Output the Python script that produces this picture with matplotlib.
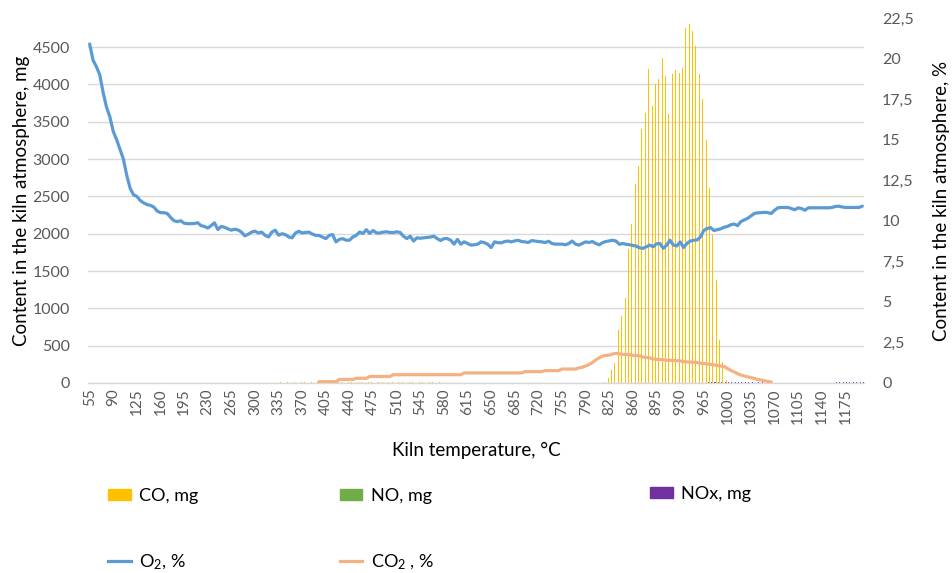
import numpy as np
import matplotlib
matplotlib.use('Agg')
import matplotlib.pyplot as plt
from matplotlib.ticker import FuncFormatter
from matplotlib.patches import Patch
from matplotlib.lines import Line2D

plt.rcParams['font.family'] = ['Lato', 'DejaVu Sans']
plt.rcParams['mathtext.fontset'] = 'custom'
plt.rcParams['mathtext.rm'] = 'Lato'
plt.rcParams['mathtext.it'] = 'Lato:italic'

# kiln temperature categories, deg C
temps = list(range(55, 1201, 5))

# CO, mg : main peak 820..1000 C
co_peak_start = 820
co_peak = [17, 63, 174, 272, 710, 902, 1135, 1792, 2131, 2668,
           2909, 3409, 3615, 4209, 3713, 4012, 4071, 4352, 4115, 3606,
           4146, 4191, 4155, 4222, 4759, 4816, 4718, 4513, 4146, 3802,
           3253, 2610, 1984, 1381, 576, 281, 40]
# CO traces 340..585 C
co_trace_start = 340
co_trace = [8, 0, 10, 0, 12, 0, 10, 8, 0, 12,
            0, 10, 12, 0, 14, 10, 0, 15, 12, 0,
            18, 14, 0, 16, 12, 0, 15, 12, 0, 10,
            14, 0, 12, 10, 0, 14, 12, 0, 10, 8,
            0, 10, 8, 0, 10, 8, 0, 8, 6, 0]

# NOx, mg traces
nox_a_start = 970
nox_a = [10, 12, 10, 12, 14, 12, 10, 12, 14, 12,
         10, 12, 10, 8, 0, 10, 8, 0, 8, 0]
nox_b_start = 1150
nox_b = [0, 0, 8, 10, 8, 10, 8, 10, 10, 12, 10]

# O2, %
o2 = [20.9, 19.9, 19.5, 19.0, 17.9, 17.0, 16.4, 15.5, 15.0, 14.4,
      13.8, 12.8, 12.0, 11.6, 11.5, 11.25, 11.1, 11.0, 10.95, 10.85,
      10.6, 10.5, 10.5, 10.45, 10.2, 10.0, 9.95, 10.0, 9.85, 9.82,
      9.82, 9.83, 9.88, 9.7, 9.65, 9.55, 9.7, 9.87, 9.46, 9.65,
      9.6, 9.5, 9.42, 9.48, 9.43, 9.3, 9.07, 9.17, 9.3, 9.36,
      9.25, 9.3, 9.1, 9.0, 9.3, 9.42, 9.11, 9.2, 9.15, 9.0,
      8.95, 9.25, 9.35, 9.25, 9.28, 9.3, 9.18, 9.1, 9.09, 9.0,
      8.9, 9.1, 9.15, 8.7, 8.85, 8.9, 8.8, 8.8, 9.0, 9.1,
      9.3, 9.22, 9.45, 9.22, 9.4, 9.25, 9.25, 9.3, 9.32, 9.28,
      9.27, 9.32, 9.28, 9.05, 8.9, 9.05, 8.75, 8.95, 8.92, 8.95,
      8.97, 9.0, 9.05, 8.9, 8.78, 8.9, 8.9, 8.8, 8.56, 8.85,
      8.56, 8.7, 8.6, 8.5, 8.52, 8.56, 8.7, 8.65, 8.55, 8.35,
      8.7, 8.65, 8.64, 8.72, 8.75, 8.7, 8.76, 8.8, 8.72, 8.7,
      8.66, 8.78, 8.75, 8.72, 8.7, 8.66, 8.74, 8.6, 8.56, 8.56,
      8.56, 8.52, 8.6, 8.75, 8.56, 8.5, 8.6, 8.7, 8.66, 8.72,
      8.6, 8.52, 8.65, 8.72, 8.76, 8.8, 8.75, 8.55, 8.6, 8.55,
      8.52, 8.48, 8.44, 8.33, 8.3, 8.4, 8.5, 8.4, 8.58, 8.6,
      8.3, 8.5, 8.8, 8.5, 8.45, 8.7, 8.35, 8.6, 8.75, 8.8,
      8.81, 9.0, 9.4, 9.52, 9.58, 9.4, 9.45, 9.5, 9.6, 9.65,
      9.75, 9.8, 9.7, 9.95, 10.05, 10.15, 10.3, 10.45, 10.49, 10.5,
      10.52, 10.5, 10.45, 10.65, 10.8, 10.82, 10.82, 10.82, 10.75, 10.68,
      10.8, 10.75, 10.65, 10.8, 10.8, 10.8, 10.8, 10.8, 10.8, 10.8,
      10.82, 10.88, 10.9, 10.85, 10.82, 10.82, 10.82, 10.82, 10.82, 10.9]

# CO2, % : 395..1065 C
co2_start = 395
co2 = [0.08, 0.08, 0.08, 0.08, 0.08, 0.08,
       0.22, 0.22, 0.22, 0.22, 0.22,
       0.29, 0.29, 0.29, 0.29,
       0.4, 0.4, 0.4, 0.4, 0.4, 0.4, 0.4,
       0.51, 0.51, 0.51, 0.51, 0.51, 0.51, 0.51, 0.51, 0.51, 0.51,
       0.51, 0.51, 0.51, 0.51, 0.51, 0.51, 0.51, 0.51, 0.51, 0.51, 0.51,
       0.62, 0.62, 0.62, 0.62, 0.62, 0.62, 0.62, 0.62, 0.62,
       0.62, 0.62, 0.62, 0.62, 0.62, 0.62, 0.62, 0.62, 0.62,
       0.7, 0.7, 0.7, 0.7, 0.7, 0.7,
       0.76, 0.76, 0.76, 0.76, 0.76,
       0.86, 0.86, 0.86, 0.86, 0.86,
       0.93, 0.97, 1.05, 1.14, 1.26, 1.42, 1.55, 1.66, 1.7, 1.72,
       1.78, 1.83, 1.79, 1.76, 1.75, 1.75, 1.7, 1.69, 1.67, 1.6,
       1.57, 1.55, 1.48, 1.46, 1.45, 1.43, 1.4, 1.39, 1.39, 1.38,
       1.36, 1.32, 1.3, 1.29, 1.28, 1.26, 1.22, 1.2, 1.17, 1.15,
       1.12, 1.08, 1.05, 1.02, 0.9, 0.78, 0.68, 0.58, 0.49, 0.43,
       0.38, 0.33, 0.28, 0.22, 0.18, 0.14, 0.09, 0.06]

n = len(temps)
x = np.arange(n)


def place(values, start):
    arr = np.zeros(n)
    i0 = temps.index(start)
    arr[i0:i0 + len(values)] = values
    return arr


co_mg = place(co_peak, co_peak_start) + place(co_trace, co_trace_start)
no_mg = np.zeros(n)
nox_mg = place(nox_a, nox_a_start) + place(nox_b, nox_b_start)
co2_pc = np.full(n, np.nan)
i0 = temps.index(co2_start)
co2_pc[i0:i0 + len(co2)] = co2

c_co = '#FFC000'
c_no = '#70AD47'
c_nox = '#7030A0'
c_o2 = '#5B9BD5'
c_co2 = '#F4B183'
c_tick = '#595959'
c_grid = '#D9D9D9'

fig = plt.figure(figsize=(9.52, 5.73), dpi=100)
ax = fig.add_axes([0.0924, 0.3316, 0.8152, 0.637])
ax2 = ax.twinx()

bw = 0.3
ax.bar(x - 0.33, co_mg, width=bw, color=c_co, linewidth=0)
ax.bar(x, no_mg, width=bw, color=c_no, linewidth=0)
ax.bar(x + 0.33, nox_mg, width=bw, color=c_nox, linewidth=0)

ax2.plot(x, o2, color=c_o2, linewidth=2.3, solid_capstyle='round')
ax2.plot(x, co2_pc, color=c_co2, linewidth=2.3, solid_capstyle='round')

ax.set_xlim(-0.5, n - 0.5)
ax.set_ylim(0, 4890)
ax2.set_ylim(0, 22.5)
ax.set_yticks(np.arange(0, 4501, 500))
ax2.set_yticks(np.arange(0, 22.6, 2.5))
ax2.yaxis.set_major_formatter(FuncFormatter(lambda v, p: ('%g' % v).replace('.', ',')))

ax.set_xticks(x[::7])
ax.set_xticklabels([str(t) for t in temps[::7]], rotation=90)

ax.set_axisbelow(True)
ax.yaxis.grid(True, color=c_grid, linewidth=1.0)
for s in ['left', 'right', 'top']:
    ax.spines[s].set_visible(False)
    ax2.spines[s].set_visible(False)
ax2.spines['bottom'].set_visible(False)
ax.spines['bottom'].set_color(c_grid)
ax.spines['bottom'].set_linewidth(1.0)

ax.tick_params(axis='x', length=0, pad=4, labelsize=11, labelcolor=c_tick)
ax.tick_params(axis='y', length=0, pad=13, labelsize=11.5, labelcolor=c_tick)
ax2.tick_params(axis='y', length=0, pad=13, labelsize=11.5, labelcolor=c_tick)

ax.set_xlabel('Kiln temperature, °C', fontsize=13.5, labelpad=13)
ax.set_ylabel('Content in the kiln atmosphere, mg', fontsize=13.5, labelpad=2)
ax2.set_ylabel('Content in the kiln atmosphere, %', fontsize=13.5, labelpad=14)

leg_kw = dict(frameon=False, fontsize=13, borderpad=0, borderaxespad=0,
              handlelength=1.25, handleheight=0.55, handletextpad=0.45,
              labelspacing=2.7, loc='center left')
h_co = Patch(color=c_co, label='CO, mg')
h_no = Patch(color=c_no, label='NO, mg')
h_nox = Patch(color=c_nox, label='NOx, mg')
h_o2 = Line2D([], [], color=c_o2, linewidth=2.3, label=r'O$_{\mathrm{2}}$, %')
h_co2 = Line2D([], [], color=c_co2, linewidth=2.3, label=r'CO$_{\mathrm{2}}$ , %')

fig.legend(handles=[h_co, h_o2], bbox_to_anchor=(0.1134, 0.075), **leg_kw)
fig.legend(handles=[h_no, h_co2], bbox_to_anchor=(0.357, 0.075), **leg_kw)
fig.legend(handles=[h_nox], bbox_to_anchor=(0.683, 0.1379), **leg_kw)

plt.savefig('out.png', dpi=100)
